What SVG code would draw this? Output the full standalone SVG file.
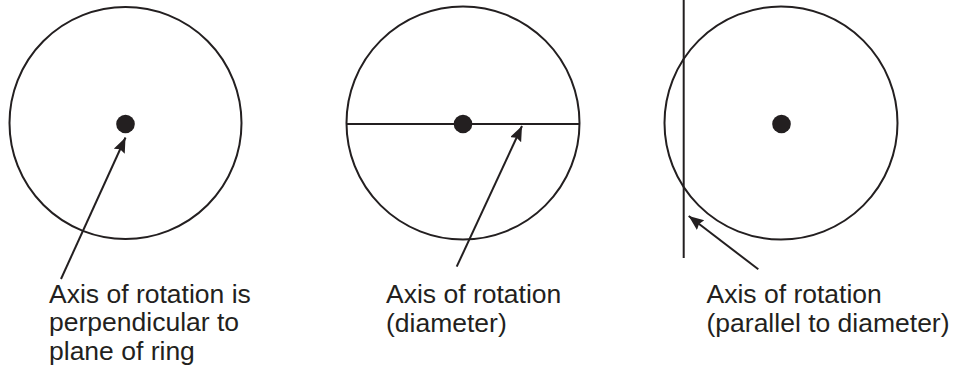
<svg xmlns="http://www.w3.org/2000/svg" width="953" height="372" viewBox="0 0 953 372">
<style>
.ring{fill:none;stroke:#231f20;stroke-width:2}
.dot{fill:#231f20}
.ln{fill:none;stroke:#231f20;stroke-width:2}
.lbl{font-family:"Liberation Sans",Arial,sans-serif;font-size:26.5px;fill:#231f20}
</style>
<defs>
<marker id="ah" markerUnits="userSpaceOnUse" markerWidth="16" markerHeight="14" refX="15" refY="6" orient="auto">
<path d="M0,0 L15,6 L0,12 L2,6 Z" fill="#231f20"/>
</marker>
</defs>
<rect width="953" height="372" fill="#fff"/>
<g id="ring1">
<circle class="ring" cx="125.5" cy="123" r="116"/>
<circle class="dot" cx="125.5" cy="124" r="9.3"/>
<text class="lbl" x="49" y="302.5">Axis of rotation is</text>
<text class="lbl" x="49" y="331">perpendicular to</text>
<text class="lbl" x="49" y="359.5">plane of ring</text>
</g>
<g id="ring2">
<circle class="ring" cx="463" cy="123" r="116.5"/>
<line class="ln" x1="346.5" y1="124" x2="579.5" y2="124"/>
<circle class="dot" cx="463" cy="124" r="9.3"/>
<text class="lbl" x="386" y="303">Axis of rotation</text>
<text class="lbl" x="386" y="331.5">(diameter)</text>
</g>
<g id="ring3">
<circle class="ring" cx="781" cy="123" r="116.5"/>
<circle class="dot" cx="781.5" cy="124" r="9.3"/>
<line class="ln" x1="683.7" y1="0" x2="683.7" y2="258"/>
<text class="lbl" x="706.5" y="303">Axis of rotation</text>
<text class="lbl" x="706.5" y="331.5">(parallel to diameter)</text>
</g>
<g id="connectors">
<line class="ln" x1="61" y1="279" x2="125.5" y2="137.5" marker-end="url(#ah)"/>
<line class="ln" x1="456.7" y1="266.7" x2="522" y2="126" marker-end="url(#ah)"/>
<line class="ln" x1="758.3" y1="269.3" x2="688.7" y2="216" marker-end="url(#ah)"/>
</g>
</svg>
